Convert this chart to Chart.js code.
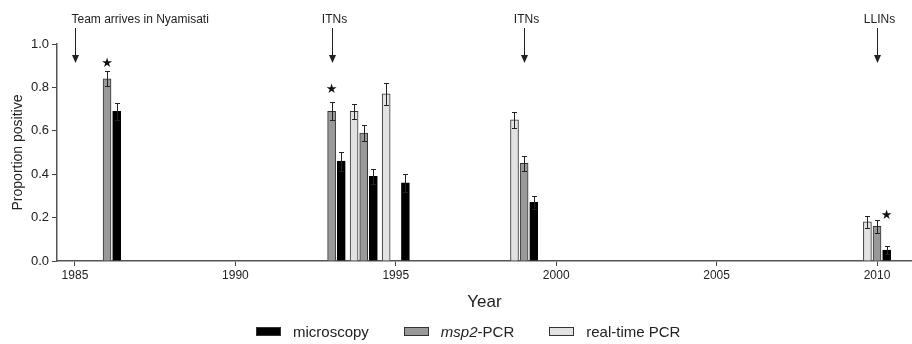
<!DOCTYPE html>
<html>
<head>
<meta charset="utf-8">
<script src="https://cdn.jsdelivr.net/npm/chart.js@4.4.1/dist/chart.umd.min.js"></script>
<style>
    body { margin: 0; background: #fff; }
    #wrap { position: relative; width: 912px; height: 344px; }
    #legend {
        position: absolute; left: 256px; top: 323px;
        display: flex; align-items: center;
        font: 15px "Liberation Sans", Arial, sans-serif; color: #222;
    }
    #legend .box { width: 23px; height: 7px; border: 1px solid #333; margin-right: 12px; }
    #legend .item { display: flex; align-items: center; margin-right: 35px; }
</style>
</head>
<body>
<div id="wrap">
    <canvas id="grafico" width="912" height="344"></canvas>
    <div id="legend">
        <div class="item"><div class="box" style="background:#000"></div>microscopy</div>
        <div class="item"><div class="box" style="background:#999"></div><i>msp2</i>-PCR</div>
        <div class="item"><div class="box" style="background:#e2e2e2"></div>real-time PCR</div>
    </div>
</div>
<script>
// survey years (centre of each group)
const years = [1986, 1993, 1994, 1995, 1999, 2010];

const microscopy    = [0.69, 0.46, 0.39, 0.36, 0.27, 0.05];
const microscopyErr = [0.04, 0.043, 0.034, 0.04, 0.03, 0.017];
const msp2          = [0.84, 0.69, 0.59, null, 0.45, 0.16];
const msp2Err       = [0.035, 0.042, 0.038, null, 0.034, 0.029];
const realtime      = [null, null, 0.69, 0.77, 0.65, 0.18];
const realtimeErr   = [null, null, 0.035, 0.05, 0.035, 0.029];

const xTicks = [1985, 1990, 1995, 2000, 2005, 2010];
const yTicks = [0, 0.2, 0.4, 0.6, 0.8, 1.0];

// arrows on top
const events = [
    { year: 1985, label: 'Team arrives in Nyamisati' },
    { year: 1993, label: 'ITNs' },
    { year: 1999, label: 'ITNs' },
    { year: 2010, label: 'LLINs' }
];

// significance stars (x in years, y in proportion)
const stars = [
    { x: 1986, y: 0.91 },
    { x: 1993, y: 0.79 },
    { x: 2010.3, y: 0.21 }
];

function puntos(valores, errores, desplazamiento) {
    let res = [];
    years.forEach((any, i) => {
        if (valores[i] !== null) {
            res.push({ x: any + desplazamiento, y: valores[i], err: errores[i] });
        }
    });
    return res;
}

const extras = {
    id: 'extras',
    afterDatasetsDraw(chart) {
        let ctx = chart.ctx;
        let xs = chart.scales.x;
        let ys = chart.scales.y;
        ctx.save();

        // error bars
        ctx.strokeStyle = '#222';
        ctx.lineWidth = 1;
        chart.data.datasets.forEach((ds, i) => {
            let meta = chart.getDatasetMeta(i);
            ds.data.forEach((p, j) => {
                let x = Math.round(meta.data[j].x) + 0.5;
                let y1 = Math.round(ys.getPixelForValue(p.y + p.err)) + 0.5;
                let y2 = Math.round(ys.getPixelForValue(p.y - p.err)) + 0.5;
                ctx.beginPath();
                ctx.moveTo(x, y1); ctx.lineTo(x, y2);
                ctx.moveTo(x - 2.5, y1); ctx.lineTo(x + 2.5, y1);
                ctx.moveTo(x - 2.5, y2); ctx.lineTo(x + 2.5, y2);
                ctx.stroke();
            });
        });

        // stars
        ctx.fillStyle = '#111';
        ctx.font = '13px "DejaVu Sans"';
        ctx.textAlign = 'center';
        ctx.textBaseline = 'middle';
        stars.forEach(s => {
            ctx.fillText('★', xs.getPixelForValue(s.x), ys.getPixelForValue(s.y));
        });

        // arrows + labels
        ctx.font = '12px "Liberation Sans", Arial, sans-serif';
        ctx.fillStyle = '#222';
        ctx.strokeStyle = '#222';
        events.forEach((ev, i) => {
            let x = Math.round(xs.getPixelForValue(ev.year)) + 0.5;
            ctx.beginPath();
            ctx.moveTo(x, 28);
            ctx.lineTo(x, 56);
            ctx.stroke();
            ctx.beginPath();
            ctx.moveTo(x - 3.5, 55);
            ctx.lineTo(x + 3.5, 55);
            ctx.lineTo(x, 63);
            ctx.closePath();
            ctx.fill();
            if (i === 0) {
                ctx.textAlign = 'left';
                ctx.fillText(ev.label, x - 4, 20);
            } else {
                ctx.textAlign = 'center';
                ctx.fillText(ev.label, x + 2, 20);
            }
        });
        ctx.restore();
    }
};

let data = {
    datasets: [
        {
            label: 'real-time PCR',
            data: puntos(realtime, realtimeErr, -0.3),
            backgroundColor: '#e2e2e2',
            borderColor: '#333',
            borderWidth: 1
        },
        {
            label: 'msp2-PCR',
            data: puntos(msp2, msp2Err, 0),
            backgroundColor: '#999',
            borderColor: '#333',
            borderWidth: 1
        },
        {
            label: 'microscopy',
            data: puntos(microscopy, microscopyErr, 0.3),
            backgroundColor: '#000',
            borderColor: '#000',
            borderWidth: 1
        }
    ]
};

let config = {
    type: 'bar',
    data: data,
    options: {
        responsive: false,
        devicePixelRatio: 1,
        animation: false,
        grouped: false,
        barThickness: 8,
        layout: { padding: { top: 44, right: 0, bottom: 31, left: 10 } },
        plugins: {
            legend: { display: false },
            tooltip: { enabled: false }
        },
        scales: {
            x: {
                type: 'linear',
                offset: false,
                min: 1984.44,
                max: 2011.09,
                afterBuildTicks: s => { s.ticks = xTicks.map(v => ({ value: v })); },
                afterFit: s => { s.height = 52; },
                ticks: {
                    color: '#222',
                    font: { family: '"Liberation Sans", Arial, sans-serif', size: 12 },
                    padding: 2,
                    maxRotation: 0,
                    callback: v => String(v)
                },
                grid: { offset: false, drawOnChartArea: false, drawTicks: true, tickLength: 5, color: '#444' },
                border: { color: '#555', width: 1.5 },
                title: {
                    display: true,
                    text: 'Year',
                    color: '#222',
                    padding: 0,
                    font: { family: '"Liberation Sans", Arial, sans-serif', size: 17 }
                }
            },
            y: {
                min: 0,
                max: 1,
                afterBuildTicks: s => { s.ticks = yTicks.map(v => ({ value: v })); },
                afterFit: s => { s.width = 47; },
                ticks: {
                    color: '#222',
                    font: { family: '"Liberation Sans", Arial, sans-serif', size: 13 },
                    padding: 3,
                    callback: v => v.toFixed(1)
                },
                grid: { drawOnChartArea: false, drawTicks: true, tickLength: 5, color: '#444' },
                border: { color: '#555', width: 1.5 },
                title: {
                    display: true,
                    text: 'Proportion positive',
                    color: '#222',
                    padding: 0,
                    font: { family: '"Liberation Sans", Arial, sans-serif', size: 14 }
                }
            }
        }
    },
    plugins: [extras]
};

let grafico = new Chart(document.getElementById('grafico').getContext('2d'), config);
</script>
</body>
</html>
